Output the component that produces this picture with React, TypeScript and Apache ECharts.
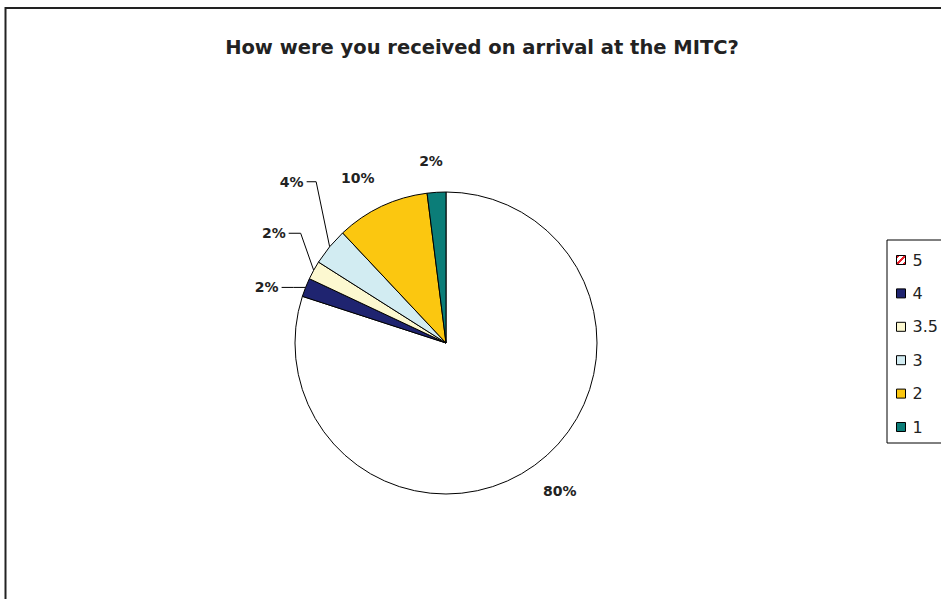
import React, { useEffect, useRef } from "react";
import * as echarts from "echarts";

const titleText = "How were you received on arrival at the MITC?";
const categories = ["5", "4", "3.5", "3", "2", "1"];
const values = [80, 2, 2, 4, 10, 2];
const sliceColors = ["#FFFFFF", "#1F2470", "#FCF8D0", "#D2ECF2", "#FBC710", "#0B7D78"];

// label placement (style): offsets of the label from the slice's outer mid-point
const labelPlacement = [
  { dx: 25, dy: 26, line: false, elbow: 0 },
  { dx: -27, dy: 0, line: true, elbow: -12 },
  { dx: -28, dy: -37, line: true, elbow: -13 },
  { dx: -26, dy: -65, line: true, elbow: -13.5 },
  { dx: -24, dy: -28, line: false, elbow: 0 },
  { dx: -5.5, dy: -31, line: false, elbow: 0 },
];

const CX = 446;
const CY = 343;
const R = 151;

function edgePoint(i: number): [number, number] {
  const total = values.reduce((a, b) => a + b, 0);
  let before = 0;
  for (let k = 0; k < i; k++) before += values[k];
  const mid = ((before + values[i] / 2) / total) * 2 * Math.PI;
  return [CX + R * Math.sin(mid), CY - R * Math.cos(mid)];
}

export default function App() {
  const ref = useRef<HTMLDivElement>(null);
  useEffect(() => {
    if (!ref.current) return;
    const chart = echarts.init(ref.current, undefined, { renderer: "svg" });
    const stripe = new echarts.graphic.LinearGradient(0, 0, 1, 1, [
      { offset: 0, color: "#E8202A" },
      { offset: 0.2, color: "#E8202A" },
      { offset: 0.2, color: "#FFFFFF" },
      { offset: 0.4, color: "#FFFFFF" },
      { offset: 0.4, color: "#E8202A" },
      { offset: 0.6, color: "#E8202A" },
      { offset: 0.6, color: "#FFFFFF" },
      { offset: 0.8, color: "#FFFFFF" },
      { offset: 0.8, color: "#E8202A" },
      { offset: 1, color: "#E8202A" },
    ]);
    chart.setOption({
      animation: false,
      backgroundColor: "#FFFFFF",
      title: {
        text: titleText,
        left: 477,
        top: 32,
        textAlign: "center",
        textStyle: {
          fontFamily: "DejaVu Sans",
          fontWeight: "bold",
          fontSize: 19.5,
          color: "#222222",
        },
      },
      legend: {
        orient: "vertical",
        left: 887,
        top: 240,
        icon: "rect",
        itemWidth: 9,
        itemHeight: 9,
        itemGap: 17.4,
        padding: [12, 40, 8, 9],
        borderColor: "#000000",
        borderWidth: 1,
        itemStyle: { borderColor: "#000000", borderWidth: 1 },
        textStyle: {
          fontFamily: "DejaVu Sans",
          fontSize: 16,
          lineHeight: 16,
          color: "#222222",
          padding: [0, 0, 0, 2],
        },
        data: categories.map((c, i) =>
          i === 0 ? { name: c, itemStyle: { color: stripe } } : { name: c }
        ),
      },
      graphic: [
        {
          type: "rect",
          shape: { x: 5.5, y: 8, width: 2000, height: 2000 },
          style: { fill: "none", stroke: "#222222", lineWidth: 2 },
          silent: true,
        },
      ],
      series: [
        {
          type: "pie",
          center: [CX, CY],
          radius: R,
          startAngle: 90,
          clockwise: true,
          avoidLabelOverlap: false,
          itemStyle: { borderColor: "#000000", borderWidth: 1 },
          emphasis: { disabled: true },
          label: {
            show: true,
            position: "outside",
            formatter: (p: any) => Math.round(p.percent) + "%",
            fontFamily: "DejaVu Sans",
            fontWeight: "bold",
            fontSize: 14,
            color: "#222222",
          },
          labelLine: {
            show: true,
            smooth: false,
            lineStyle: { color: "#000000", width: 1 },
          },
          labelLayout: (params: any) => {
            const i = params.dataIndex;
            const [ex, ey] = edgePoint(i);
            const p = labelPlacement[i];
            const x = ex + p.dx;
            const y = ey + p.dy;
            if (!p.line) {
              return { x, y, align: "center", verticalAlign: "middle" };
            }
            return {
              x,
              y,
              align: "right",
              verticalAlign: "middle",
              labelLinePoints: [
                [ex, ey],
                [ex + p.elbow, y],
                [x + 3, y],
              ],
            };
          },
          data: categories.map((c, i) => ({
            name: c,
            value: values[i],
            itemStyle: { color: sliceColors[i] },
            labelLine: { show: labelPlacement[i].line },
          })),
        },
      ],
    });
    return () => chart.dispose();
  }, []);
  return (
    <div
      ref={ref}
      style={{ position: "fixed", left: 0, top: 0, width: 941, height: 599 }}
    />
  );
}
